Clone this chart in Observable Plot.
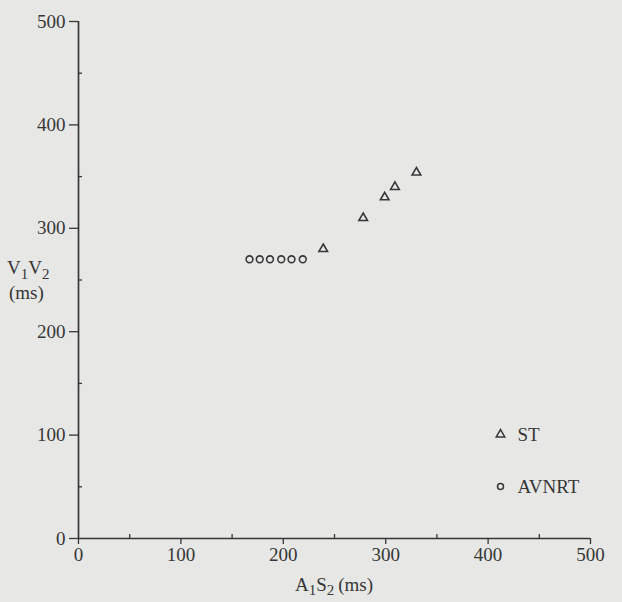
<!DOCTYPE html>
<html><head><meta charset="utf-8">
<script src="https://cdn.jsdelivr.net/npm/d3@7"></script>
<script src="https://cdn.jsdelivr.net/npm/@observablehq/plot@0.6"></script>
<style>
html,body{margin:0;padding:0;background:#e7e8e6;}
#chart{width:622px;height:602px;}
</style></head><body><div id="chart"></div>
<script>
// Data
const stA1S2 = [239, 278, 299, 309, 330];
const stV1V2 = [280, 310, 330, 340, 354];
const avnrtA1S2 = [167, 177, 187, 198, 208, 219];
const avnrtV1V2 = [270, 270, 270, 270, 270, 270];
const xMajorTicks = [0, 100, 200, 300, 400, 500];
const xMinorTicks = [50, 150, 250, 350, 450];
const yMajorTicks = [0, 100, 200, 300, 400, 500];
const yMinorTicks = [50, 150, 250, 350, 450];
const legendLabels = ["ST", "AVNRT"];
const legendSymbols = ["triangle", "circle"];

const ink = "#363636";
const font = "'Liberation Serif', 'DejaVu Serif', serif";

const st = stA1S2.map((x, i) => ({x, y: stV1V2[i]}));
const avnrt = avnrtA1S2.map((x, i) => ({x, y: avnrtV1V2[i]}));

const legendMarks = legendLabels.flatMap((label, i) => [
  Plot.dot([label], {frameAnchor: "bottom-right", dx: -90, dy: -104 + i * 52,
    symbol: legendSymbols[i], r: i === 0 ? 3.2 : 3.0, stroke: ink, strokeWidth: 1.5, fill: "none"}),
  Plot.text([label], {frameAnchor: "bottom-right", dx: -73, dy: -104 + i * 52, text: d => d,
    textAnchor: "start", lineAnchor: "middle", fontSize: 19, fill: ink, fontFamily: font})
]);

const plot = Plot.plot({
  width: 622,
  height: 602,
  marginLeft: 78,
  marginRight: 32,
  marginTop: 21,
  marginBottom: 64,
  style: {background: "transparent", fontFamily: font, fontSize: "19px", color: ink},
  x: {domain: [0, 500]},
  y: {domain: [0, 500]},
  marks: [
    Plot.axisX({ticks: xMajorTicks, tickSize: 6, tickPadding: 3, label: null, stroke: ink, strokeWidth: 1.3, fontSize: 19, fill: ink}),
    Plot.axisY({ticks: yMajorTicks, tickSize: 9, tickPadding: 4, label: null, stroke: ink, strokeWidth: 1.3, fontSize: 19, fill: ink}),
    // minor ticks pointing inward
    Plot.ruleX(xMinorTicks, {x: d => d, y1: 0, y2: 0, insetTop: -4, stroke: ink, strokeWidth: 1.3}),
    Plot.ruleY(yMinorTicks, {y: d => d, x1: 0, x2: 0, insetRight: -4, stroke: ink, strokeWidth: 1.3}),
    Plot.ruleX([0], {stroke: ink, strokeWidth: 1.7}),
    Plot.ruleY([0], {stroke: ink, strokeWidth: 1.7}),
    Plot.dot(avnrt, {x: "x", y: "y", symbol: "circle", r: 3.4, stroke: ink, strokeWidth: 1.6, fill: "none"}),
    Plot.dot(st, {x: "x", y: "y", symbol: "triangle", r: 3.2, stroke: ink, strokeWidth: 1.6, fill: "none"}),
    ...legendMarks
  ]
});

const svg = d3.select(plot);
// Y axis title: V1V2 (ms)
const yt = svg.append("text").attr("x", 7).attr("y", 274).attr("text-anchor", "start")
  .attr("font-family", font).attr("font-size", 19).attr("fill", ink);
yt.append("tspan").text("V");
yt.append("tspan").attr("dy", 5).attr("font-size", 15).text("1");
yt.append("tspan").attr("dy", -5).text("V");
yt.append("tspan").attr("dy", 5).attr("font-size", 15).text("2");
svg.append("text").attr("x", 9).attr("y", 299).attr("text-anchor", "start")
  .attr("font-family", font).attr("font-size", 19).attr("fill", ink).text("(ms)");
// X axis title: A1S2 (ms)
const xt = svg.append("text").attr("x", 334).attr("y", 591).attr("text-anchor", "middle")
  .attr("font-family", font).attr("font-size", 19).attr("fill", ink);
xt.append("tspan").text("A");
xt.append("tspan").attr("dy", 4).attr("font-size", 15).text("1");
xt.append("tspan").attr("dy", -4).text("S");
xt.append("tspan").attr("dy", 4).attr("font-size", 15).text("2");
xt.append("tspan").attr("dy", -4).attr("dx", 4).text("(ms)");

document.getElementById("chart").appendChild(plot);
</script>
</body></html>
